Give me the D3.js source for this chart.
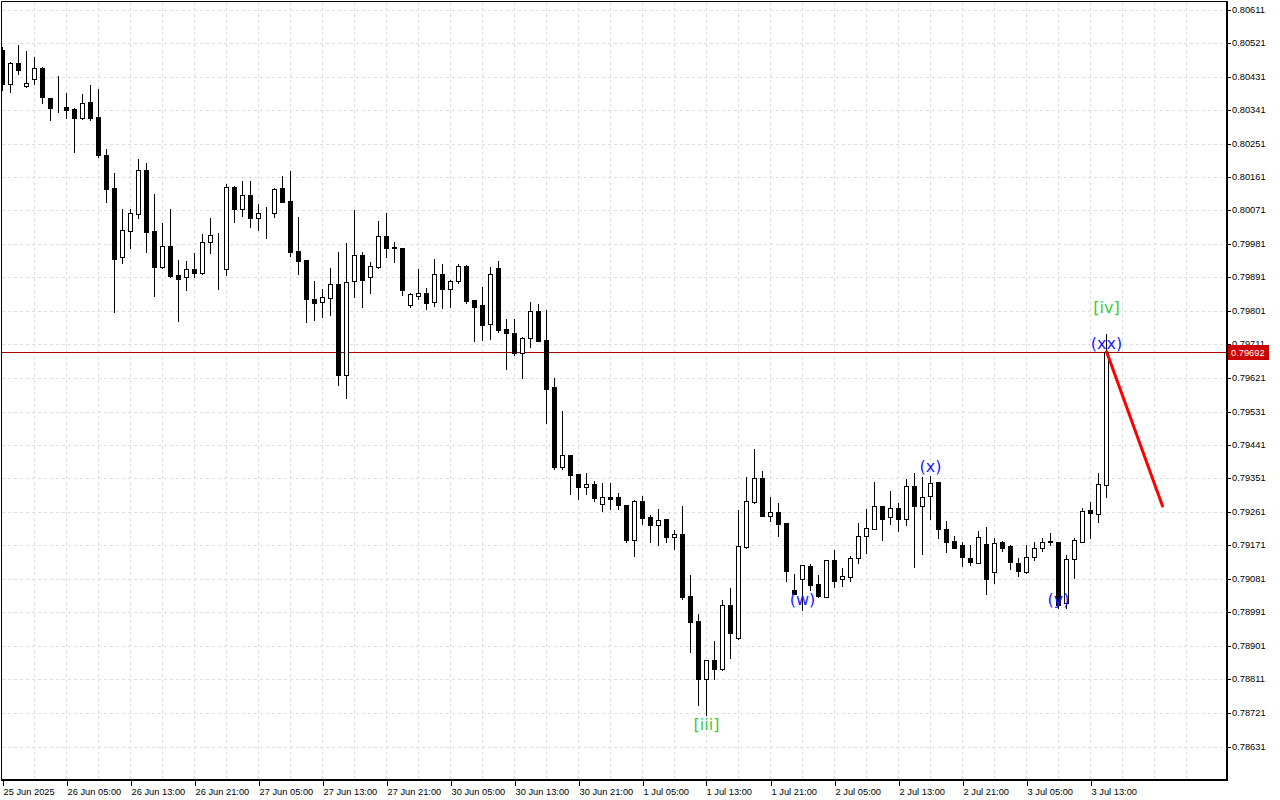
<!DOCTYPE html>
<html><head><meta charset="utf-8">
<script src="https://cdn.jsdelivr.net/npm/d3@7"></script>
<style>html,body{margin:0;padding:0;background:#fff;}svg{display:block;}</style>
</head><body><svg id="c" width="1280" height="800"></svg>
<script>
// H1 bars, first bar = 25 Jun 2025 21:00
const opens = [0.80502,0.80410,0.80467,0.80405,0.80424,0.80454,0.80373,0.80348,0.80349,0.80344,
0.80320,0.80362,0.80322,0.80219,0.80131,0.79945,0.80017,0.80062,0.80179,0.80016,
0.79920,0.79976,0.79898,0.79892,0.79914,0.79903,0.79986,0.79914,0.79913,0.80134,
0.80074,0.80113,0.80052,0.80063,0.80063,0.80131,0.80097,0.79961,0.79938,0.79833,
0.79824,0.79837,0.79873,0.79630,0.79881,0.79951,0.79892,0.79920,0.80003,0.79971,
0.79970,0.79818,0.79842,0.79850,0.79826,0.79900,0.79861,0.79881,0.79921,0.79831,
0.79816,0.79765,0.79916,0.79752,0.79742,0.79687,0.79728,0.79800,0.79723,0.79597,
0.79383,0.79414,0.79363,0.79329,0.79335,0.79282,0.79301,0.79300,0.79280,0.79186,
0.79291,0.79247,0.79225,0.79241,0.79195,0.79201,0.79035,0.78967,0.78812,0.78863,
0.78838,0.79011,0.78923,0.79168,0.79288,0.79352,0.79251,0.79262,0.79231,0.79051,
0.79080,0.79116,0.79068,0.79033,0.79132,0.79080,0.79087,0.79137,0.79196,0.79216,
0.79276,0.79247,0.79273,0.79243,0.79330,0.79276,0.79303,0.79341,0.79214,0.79183,
0.79172,0.79137,0.79125,0.79175,0.79101,0.79180,0.79170,0.79125,0.79101,0.79139,
0.79165,0.79183,0.79180,0.79017,0.79134,0.79181,0.79266,0.79256,0.79333];
const highs = [0.80510,0.80470,0.80516,0.80500,0.80484,0.80457,0.80373,0.80433,0.80388,0.80346,
0.80384,0.80409,0.80397,0.80236,0.80172,0.80075,0.80075,0.80210,0.80199,0.80115,
0.80038,0.80075,0.79938,0.79935,0.79956,0.80008,0.80051,0.80011,0.80143,0.80136,
0.80150,0.80150,0.80089,0.80080,0.80131,0.80164,0.80177,0.80053,0.79938,0.79882,
0.79860,0.79916,0.79960,0.79985,0.80072,0.79960,0.79933,0.80043,0.80063,0.79986,
0.79971,0.79849,0.79914,0.79862,0.79941,0.79927,0.79884,0.79927,0.79925,0.79831,
0.79865,0.79919,0.79935,0.79779,0.79779,0.79730,0.79824,0.79819,0.79804,0.79621,
0.79532,0.79415,0.79364,0.79366,0.79343,0.79339,0.79339,0.79311,0.79281,0.79293,
0.79304,0.79252,0.79269,0.79242,0.79213,0.79277,0.79091,0.78987,0.78864,0.78914,
0.79024,0.79057,0.79266,0.79355,0.79430,0.79371,0.79301,0.79285,0.79232,0.79094,
0.79119,0.79121,0.79092,0.79133,0.79160,0.79110,0.79142,0.79231,0.79268,0.79342,
0.79277,0.79318,0.79285,0.79350,0.79367,0.79354,0.79357,0.79342,0.79237,0.79197,
0.79180,0.79172,0.79211,0.79220,0.79190,0.79182,0.79172,0.79137,0.79171,0.79180,
0.79190,0.79205,0.79181,0.79145,0.79190,0.79271,0.79287,0.79365,0.79738];
const lows = [0.80395,0.80390,0.80439,0.80403,0.80412,0.80361,0.80314,0.80336,0.80320,0.80229,
0.80318,0.80314,0.80214,0.80094,0.79799,0.79931,0.79971,0.80052,0.79960,0.79842,
0.79916,0.79893,0.79774,0.79858,0.79891,0.79901,0.79958,0.79861,0.79899,0.80041,
0.80057,0.80028,0.80019,0.79998,0.80054,0.80095,0.79949,0.79901,0.79772,0.79778,
0.79786,0.79790,0.79602,0.79567,0.79839,0.79812,0.79850,0.79916,0.79947,0.79933,
0.79845,0.79813,0.79832,0.79806,0.79814,0.79810,0.79813,0.79877,0.79823,0.79721,
0.79724,0.79727,0.79744,0.79644,0.79683,0.79622,0.79705,0.79720,0.79501,0.79377,
0.79377,0.79310,0.79296,0.79310,0.79290,0.79264,0.79269,0.79269,0.79181,0.79144,
0.79229,0.79180,0.79173,0.79181,0.79162,0.79028,0.78886,0.78743,0.78715,0.78813,
0.78837,0.78869,0.78920,0.79165,0.79285,0.79250,0.79236,0.79197,0.79076,0.79040,
0.78999,0.79052,0.79033,0.79032,0.79059,0.79063,0.79076,0.79125,0.79150,0.79215,
0.79187,0.79230,0.79211,0.79225,0.79112,0.79147,0.79243,0.79190,0.79153,0.79164,
0.79117,0.79118,0.79123,0.79041,0.79069,0.79155,0.79107,0.79089,0.79096,0.79133,
0.79157,0.79171,0.79002,0.79002,0.79085,0.79180,0.79190,0.79233,0.79302];
const closes = [0.80410,0.80467,0.80449,0.80413,0.80453,0.80375,0.80347,0.80349,0.80342,0.80320,
0.80360,0.80320,0.80221,0.80130,0.79942,0.80018,0.80064,0.80179,0.80014,0.79920,
0.79975,0.79895,0.79888,0.79914,0.79903,0.79986,0.80004,0.79915,0.80134,0.80076,
0.80113,0.80052,0.80063,0.80064,0.80129,0.80095,0.79960,0.79935,0.79834,0.79823,
0.79838,0.79874,0.79630,0.79878,0.79951,0.79885,0.79921,0.80003,0.79971,0.79972,
0.79858,0.79846,0.79850,0.79823,0.79900,0.79861,0.79882,0.79921,0.79829,0.79813,
0.79764,0.79900,0.79750,0.79741,0.79689,0.79728,0.79800,0.79721,0.79592,0.79383,
0.79414,0.79361,0.79329,0.79335,0.79299,0.79300,0.79296,0.79279,0.79186,0.79291,
0.79246,0.79225,0.79240,0.79195,0.79201,0.79033,0.78965,0.78812,0.78863,0.78838,
0.79011,0.78935,0.79169,0.79290,0.79352,0.79251,0.79262,0.79230,0.79103,0.79041,
0.79118,0.79066,0.79035,0.79132,0.79076,0.79088,0.79137,0.79196,0.79217,0.79276,
0.79243,0.79273,0.79243,0.79330,0.79276,0.79302,0.79338,0.79214,0.79181,0.79165,
0.79139,0.79126,0.79195,0.79080,0.79177,0.79165,0.79126,0.79102,0.79139,0.79165,
0.79181,0.79180,0.79011,0.79134,0.79186,0.79264,0.79257,0.79335,0.79692];

const timeTickLabels = ["25 Jun 2025","26 Jun 05:00","26 Jun 13:00","26 Jun 21:00","27 Jun 05:00","27 Jun 13:00",
"27 Jun 21:00","30 Jun 05:00","30 Jun 13:00","30 Jun 21:00","1 Jul 05:00","1 Jul 13:00","1 Jul 21:00",
"2 Jul 05:00","2 Jul 13:00","2 Jul 21:00","3 Jul 05:00","3 Jul 13:00"];
const timeTickBars = [0,8,16,24,32,40,48,56,64,72,80,88,96,104,112,120,128,136];
const priceTicks = [0.78631,0.78721,0.78811,0.78901,0.78991,0.79081,0.79171,0.79261,0.79351,0.79441,0.79531,
0.79621,0.79711,0.79801,0.79891,0.79981,0.80071,0.80161,0.80251,0.80341,0.80431,0.80521,0.80611];
const lastPrice = 0.79692;

const waveTexts = ["[iii]","[iv]","(xx)","(w)","(x)","(y)"];
const waveBars = [88,138,138,100,116,132];
const wavePrices = [0.78676,0.79796,0.79699,0.79011,0.79369,0.79011];
const waveColors = ["#3ccc3c","#3ccc3c","#1a1aff","#1a1aff","#1a1aff","#1a1aff"];

const forecastBars = [138,145];
const forecastPrices = [0.79692,0.79277];

const svg = d3.select("#c");
const L = 2, T = 2, R = 1227, B = 780;
const x = d3.scaleLinear().domain([0,138]).range([2.5,1106.5]);
const y = d3.scaleLinear().domain([0.78631,0.80611]).range([746.5,9.5]);
const yr = y.copy().interpolate(d3.interpolateRound);
const xr = x.copy().interpolate(d3.interpolateRound);
const font = "'Liberation Sans', Arial, sans-serif";

svg.append("rect").attr("width",1280).attr("height",800).attr("fill","#fff");
svg.append("defs").append("clipPath").attr("id","pc").append("rect")
  .attr("x",L).attr("y",T).attr("width",R-L-1).attr("height",B-T-1);

const plot = svg.append("g").attr("clip-path","url(#pc)");
// grid
const gridColor = "#dedede";
plot.append("g").selectAll("line").data(priceTicks).join("line")
  .attr("x1",L).attr("x2",R).attr("y1",d=>yr(d)+0.5).attr("y2",d=>yr(d)+0.5)
  .attr("stroke",gridColor).attr("stroke-dasharray","3,3");
const vgrid = d3.range(4,152,4);
plot.append("g").selectAll("line").data(vgrid).join("line")
  .attr("y1",T).attr("y2",B).attr("x1",d=>x(d)).attr("x2",d=>x(d))
  .attr("stroke",gridColor).attr("stroke-dasharray","3,3");

// last price line
plot.append("line").attr("x1",L).attr("x2",R)
  .attr("y1",yr(lastPrice)+0.5).attr("y2",yr(lastPrice)+0.5)
  .attr("stroke","#a80000").attr("stroke-width",1);

// candles
const idx = d3.range(opens.length);
const cg = plot.append("g");
cg.selectAll("line").data(idx).join("line")
  .attr("x1",i=>x(i)).attr("x2",i=>x(i))
  .attr("y1",i=>yr(highs[i])).attr("y2",i=>yr(lows[i])+1)
  .attr("stroke","#000").attr("stroke-width",1);
cg.selectAll("rect").data(idx).join("rect")
  .attr("x",i=>x(i)-2).attr("width",4)
  .attr("y",i=>yr(Math.max(opens[i],closes[i]))+0.5)
  .attr("height",i=>Math.max(0,yr(Math.min(opens[i],closes[i]))-yr(Math.max(opens[i],closes[i]))))
  .attr("fill",i=>closes[i]>=opens[i]?"#fff":"#000")
  .attr("stroke","#000").attr("stroke-width",1);

// forecast line
plot.append("path")
  .datum(d3.range(forecastBars.length))
  .attr("d",d3.line().x(i=>x(forecastBars[i])).y(i=>y(forecastPrices[i])))
  .attr("stroke","#ff0000").attr("stroke-width",3).attr("fill","none").attr("stroke-linecap","round");

// wave labels
plot.append("g").selectAll("text").data(d3.range(waveTexts.length)).join("text")
  .attr("x",i=>x(waveBars[i])).attr("y",i=>y(wavePrices[i]))
  .attr("text-anchor","middle").attr("fill",i=>waveColors[i])
  .style("font-family","'DejaVu Sans', Verdana, sans-serif").style("font-size","16px")
  .text(i=>waveTexts[i]);

// frame
svg.append("line").attr("x1",L-0.5).attr("x2",R).attr("y1",T-0.5).attr("y2",T-0.5).attr("stroke","#000");
svg.append("line").attr("x1",L-0.5).attr("x2",L-0.5).attr("y1",T-0.5).attr("y2",B).attr("stroke","#000");

// right axis
const ya = svg.append("g").attr("transform",`translate(${R+1},0)`)
  .call(d3.axisRight(yr).tickValues(priceTicks).tickFormat(d3.format(".5f")).tickSize(3).tickPadding(1));
ya.select(".domain").remove();
ya.selectAll("text").style("font-family",font).style("font-size","9.3px").attr("fill","#000");
svg.append("line").attr("x1",R).attr("x2",R).attr("y1",T-1).attr("y2",B+1).attr("stroke","#000").attr("stroke-width",2);

// bottom axis
const xa = svg.append("g").attr("transform",`translate(0,${B+1})`)
  .call(d3.axisBottom(xr).tickValues(timeTickBars).tickFormat((d,i)=>timeTickLabels[i]).tickSize(5).tickPadding(2));
xa.select(".domain").remove();
xa.selectAll("text").attr("text-anchor","start").attr("x",0)
  .style("font-family",font).style("font-size","9.3px").attr("fill","#000");
svg.append("line").attr("x1",L-1).attr("x2",R+1).attr("y1",B).attr("y2",B).attr("stroke","#000").attr("stroke-width",2);

// last price tag
const ty = yr(lastPrice);
svg.append("rect").attr("x",R+1).attr("y",ty-7).attr("width",41).attr("height",15).attr("fill","#cc0000");
svg.append("text").attr("x",R+4).attr("y",ty+0.5).attr("dy","0.35em").attr("fill","#fff")
  .style("font-family",font).style("font-size","9.3px").text(d3.format(".5f")(lastPrice));
</script></body></html>
